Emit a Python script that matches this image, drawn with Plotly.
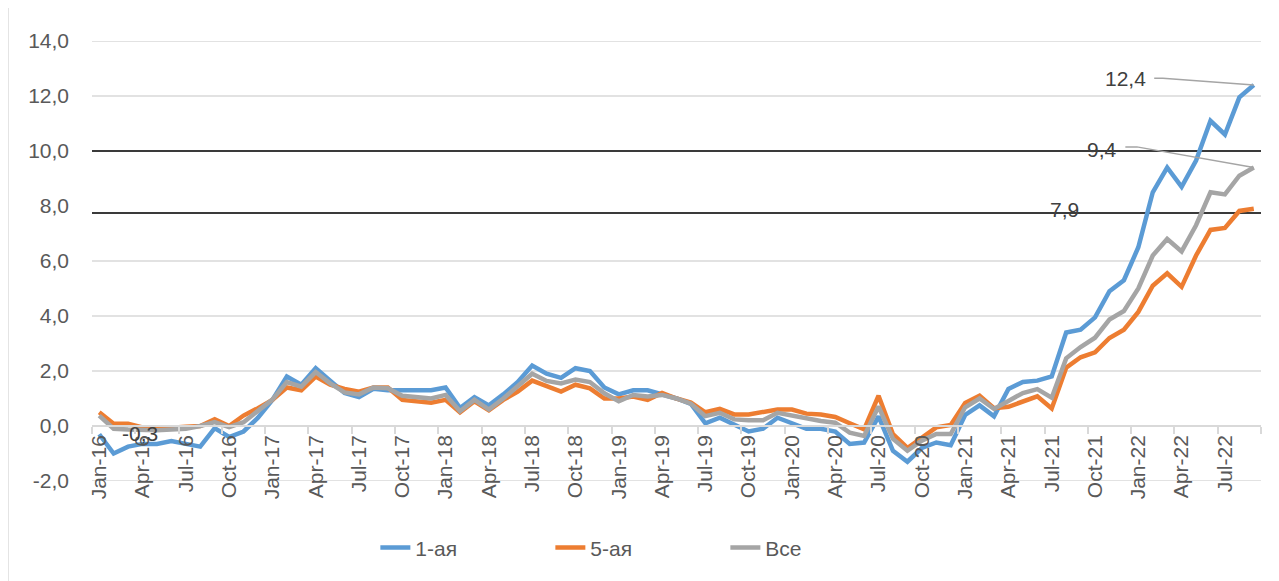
import plotly.graph_objects as go

MONTHS = ["Jan", "Feb", "Mar", "Apr", "May", "Jun", "Jul", "Aug", "Sep", "Oct", "Nov", "Dec"]
YEARS = ["16", "17", "18", "19", "20", "21", "22"]
categories = [f"{m}-{y}" for y in YEARS for m in MONTHS][:81]  # Jan-16 .. Sep-22

first = [-0.3, -1.0, -0.75, -0.65, -0.65, -0.55, -0.65, -0.75, -0.08, -0.4,
         -0.2, 0.3, 0.95, 1.8, 1.5, 2.1, 1.65, 1.2, 1.05, 1.35,
         1.3, 1.3, 1.3, 1.3, 1.4, 0.65, 1.05, 0.75, 1.15, 1.6,
         2.2, 1.9, 1.75, 2.1, 2.0, 1.4, 1.15, 1.3, 1.3, 1.15,
         1.0, 0.8, 0.1, 0.3, 0.05, -0.2, -0.1, 0.3, 0.1, -0.1,
         -0.1, -0.2, -0.65, -0.6, 0.35, -0.9, -1.3, -0.8, -0.6, -0.7,
         0.4, 0.75, 0.35, 1.35, 1.6, 1.65, 1.8, 3.4, 3.5, 3.95,
         4.9, 5.3, 6.5, 8.5, 9.4, 8.7, 9.65, 11.1, 10.6, 11.95,
         12.4]

fifth = [0.5, 0.08, 0.08, -0.05, -0.1, -0.05, -0.03, 0.0, 0.25, 0.0,
         0.38, 0.65, 0.95, 1.4, 1.3, 1.8, 1.5, 1.35, 1.25, 1.4,
         1.4, 0.95, 0.88, 0.85, 0.95, 0.5, 0.9, 0.57, 0.95, 1.25,
         1.65, 1.43, 1.25, 1.5, 1.37, 1.0, 1.0, 1.07, 0.95, 1.2,
         1.0, 0.85, 0.5, 0.62, 0.42, 0.42, 0.5, 0.6, 0.6, 0.45,
         0.42, 0.33, 0.1, -0.12, 1.1, -0.3, -0.8, -0.4, -0.05, 0.04,
         0.84, 1.1, 0.65, 0.7, 0.87, 1.08, 0.64, 2.12, 2.5, 2.68,
         3.2, 3.5, 4.15, 5.1, 5.55, 5.06, 6.2, 7.13, 7.2, 7.82,
         7.9]

total = [0.38, -0.1, -0.13, -0.15, -0.15, -0.13, -0.1, 0.0, 0.14, -0.04,
         0.14, 0.55, 0.96, 1.6, 1.43, 1.96, 1.55, 1.22, 1.15, 1.4,
         1.37, 1.1, 1.05, 1.0, 1.13, 0.54, 0.95, 0.6, 1.0, 1.43,
         1.9, 1.64, 1.55, 1.69, 1.6, 1.19, 0.9, 1.13, 1.07, 1.13,
         1.0, 0.81, 0.36, 0.48, 0.24, 0.21, 0.21, 0.48, 0.38, 0.24,
         0.18, 0.12, -0.24, -0.36, 0.71, -0.47, -0.9, -0.53, -0.29, -0.29,
         0.68, 1.0, 0.62, 0.91, 1.2, 1.34, 1.03, 2.46, 2.87, 3.21,
         3.87, 4.18, 5.0, 6.2, 6.8, 6.35, 7.3, 8.5, 8.42, 9.1,
         9.4]

series_names = ["1-ая", "5-ая", "Все"]
series_colors = ["#5B9BD5", "#ED7D31", "#A5A5A5"]
y_ticks = [-2, 0, 2, 4, 6, 8, 10, 12, 14]
grid_levels = [-2, 2, 4, 6, 12, 14]
ref_levels = [10, 7.75]

def fmt(v):
    return f"{v:.1f}".replace(".", ",")

fig = go.Figure()
for name, vals, col in zip(series_names, [first, fifth, total], series_colors):
    fig.add_trace(go.Scatter(x=categories, y=vals, name=name, mode="lines",
                             line=dict(color=col, width=4.5)))

TICK_COLOR = "#595959"
GRID = "#D9D9D9"

for g in grid_levels:
    fig.add_shape(type="line", xref="paper", yref="y", x0=0, x1=1, y0=g, y1=g,
                  line=dict(color=GRID, width=1.5), layer="below")
for r in ref_levels:
    fig.add_shape(type="line", xref="paper", yref="y", x0=0, x1=1, y0=r, y1=r,
                  line=dict(color="#3A3A3A", width=2), layer="below")

# chart-area border on the left
fig.add_shape(type="line", xref="paper", yref="paper", x0=-0.0719, x1=-0.0719,
              y0=-0.3, y1=1.2, line=dict(color=GRID, width=1.5))

n = len(categories)
ann_font = dict(family="Liberation Sans, Arial, sans-serif", size=21, color="#404040")
# value labels
fig.add_annotation(x=71.1, y=12.62, text=fmt(first[-1]), showarrow=False, font=ann_font)
fig.add_annotation(x=69.5, y=10.07, text=fmt(total[-1]), showarrow=False, font=ann_font)
fig.add_annotation(x=66.9, y=7.89, text=fmt(fifth[-1]), showarrow=False, font=ann_font)
fig.add_annotation(x=2.83, y=-0.29, text=fmt(first[0]), showarrow=False, font=ann_font)
# leader lines
fig.add_shape(type="path", xref="x", yref="y",
              path=f"M 73.1 12.65 L 73.7 12.65 L {n-1} {first[-1]}",
              line=dict(color="#A5A5A5", width=1.5))
fig.add_shape(type="path", xref="x", yref="y",
              path=f"M 71.1 10.15 L 71.9 10.15 L {n-1} {total[-1]}",
              line=dict(color="#A5A5A5", width=1.5))

fig.update_layout(
    width=1271, height=573, autosize=False,
    margin=dict(l=84, r=18, t=33, b=100, autoexpand=False),
    paper_bgcolor="white", plot_bgcolor="white",
    separators=", ",
    font=dict(family="Liberation Sans, Arial, sans-serif", size=21, color=TICK_COLOR),
    showlegend=True,
    legend=dict(orientation="h", x=0.2424, xanchor="left", y=-0.152, yanchor="middle",
                entrywidth=130, entrywidthmode="pixels",
                font=dict(size=21, color=TICK_COLOR), bgcolor="rgba(0,0,0,0)"),
    xaxis=dict(type="category", range=[-0.5, n - 0.5], tickmode="linear", tick0=0, dtick=3,
               tickson="boundaries", tickangle=-90, ticks="outside", ticklen=7,
               tickcolor=GRID, tickwidth=1.5, showline=True, linecolor=GRID, linewidth=1.5,
               showgrid=False, zeroline=False, anchor="free", position=0.125,
               tickfont=dict(size=21, color=TICK_COLOR)),
    yaxis=dict(range=[-2, 14], tickmode="array", tickvals=y_ticks,
               ticktext=[fmt(v) for v in y_ticks], showgrid=False,
               zeroline=False, showline=False, ticks="", ticklabelstandoff=22,
               tickfont=dict(size=21, color=TICK_COLOR)),
)

fig.write_html("out.html")
